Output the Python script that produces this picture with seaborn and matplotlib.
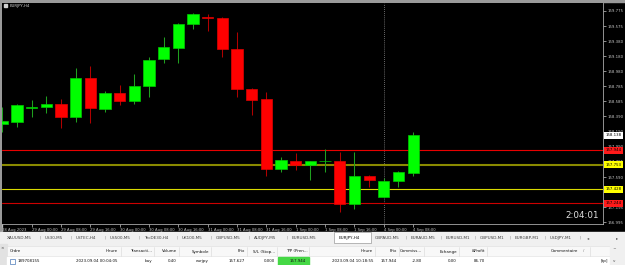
import numpy as np
import matplotlib
matplotlib.use("Agg")
import matplotlib.pyplot as plt
import matplotlib.transforms as mtrans
from matplotlib.patches import Rectangle
import seaborn as sns

# ---------------- data ----------------
symbol = "EURJPY,H4"
opens  = [158.289, 158.311, 158.506, 158.517, 158.552, 158.377, 158.898, 158.490, 158.693, 158.591,
          158.789, 159.140, 159.292, 159.604, 159.696, 159.683, 159.275, 158.749, 158.614, 157.697,
          157.799, 157.750, 157.799, 157.799, 157.233, 157.601, 157.333, 157.535, 157.649]
highs  = [158.517, 158.552, 158.605, 158.657, 158.614, 159.021, 159.052, 158.723, 158.798, 158.946,
          159.166, 159.429, 159.621, 159.753, 159.732, 159.700, 159.503, 158.758, 158.706, 157.851,
          157.904, 157.806, 157.960, 157.925, 157.917, 157.618, 157.575, 157.671, 158.180]
lows   = [158.188, 158.246, 158.377, 158.430, 158.236, 158.319, 158.306, 158.451, 158.535, 158.556,
          158.648, 159.095, 159.095, 159.542, 159.512, 159.174, 158.640, 158.403, 157.609, 157.662,
          157.684, 157.553, 157.654, 157.130, 157.171, 157.464, 157.325, 157.464, 157.609]
closes = [158.325, 158.543, 158.513, 158.552, 158.385, 158.898, 158.495, 158.701, 158.591, 158.793,
          159.131, 159.298, 159.604, 159.739, 159.687, 159.275, 158.745, 158.609, 157.697, 157.812,
          157.750, 157.802, 157.802, 157.237, 157.605, 157.549, 157.539, 157.658, 158.138]

date_labels = ["28 Aug 2023", "29 Aug 00:00", "29 Aug 08:00", "29 Aug 16:00", "30 Aug 00:00",
               "30 Aug 08:00", "30 Aug 16:00", "31 Aug 00:00", "31 Aug 08:00", "31 Aug 16:00",
               "1 Sep 00:00", "1 Sep 08:00", "1 Sep 16:00", "4 Sep 00:00", "4 Sep 08:00"]
separator_bar = 26

price_ticks = [159.775, 159.575, 159.380, 159.180, 158.980, 158.785, 158.585, 158.390,
               158.190, 157.990, 157.795, 157.590, 157.395, 157.195, 156.995]

level_prices = [157.944, 157.753, 157.428, 157.244]
level_colors = ["#e80000", "#8a8a00", "#dada00", "#cc0000"]
level_widths = [0.8, 1.5, 0.8, 0.8]
level_box_colors = ["#ff1a1a", "#ffff00", "#ffff00", "#ff1a1a"]
current_price = 158.138
timer_text = "2:04:01"

tabs = ["XAUUSD,M5", "US30,M5", "USTEC,H4", "US500,M5", "TecDE30,H4", "UK100,M5",
        "GBPUSD,M5", "AUDJPY,M5", "EURUSD,M5", "EURJPY,H4", "GBPAUD,M5", "EURAUD,M5",
        "EURUSD,M1", "GBPUSD,M1", "EURGBP,M1", "USDJPY,M1"]
tab_x = [7, 45, 76, 110, 144, 182, 216, 254, 292, 339, 375, 411, 446, 480, 515, 550]
active_tab = 9

headers = ["Ordre", "Heure", "Transacti...", "Volume", "Symbole", "Prix", "S/L (Stop...",
           "T/P (Pren...", "Heure", "Prix", "Commiss...", "Echange", "&Profit", "Commentaire"]
row_values = ["189708155", "2023.09.04 00:04:05", "buy", "0.40", "eurjpy", "157.627", "0.000",
              "157.944", "2023.09.04 10:18:55", "157.944", "-2.80", "0.00", "86.70", "[tp]"]
col_right = [None, 118, 152, 177, 209, 245, 275, 306, 373, 397, 422, 457, 485, 608]
header_right = [None, 118, 152, 177, 209, 245, 275, 308, 373, 397, 422, 457, 485, 578]

# ---------------- style ----------------
sns.set_theme(style="dark")
plt.rcParams["font.family"] = ["DejaVu Sans"]

W, H = 625, 265
fig = plt.figure(figsize=(W / 100, H / 100), dpi=100, facecolor="#f0f0f0")


def fx(px):
    return px / W


def fy(py):
    return 1 - py / H


# background / UI layer in pixel coordinates
bg = fig.add_axes([0, 0, 1, 1], zorder=0)
bg.set_xlim(0, W)
bg.set_ylim(H, 0)
bg.axis("off")
bg.add_patch(Rectangle((0, 0), W, 232, color="#000000"))
bg.add_patch(Rectangle((0, 0), W, 1.5, color="#9a9a9a"))
bg.add_patch(Rectangle((0, 0), 1.5, 232, color="#9a9a9a"))

# tab bar
bg.add_patch(Rectangle((0, 232), W, 11, color="#f0f0f0"))
bg.add_patch(Rectangle((334, 232.3), 37, 10.5, facecolor="white", edgecolor="#9a9a9a", lw=0.5))
for i, (t, tx) in enumerate(zip(tabs, tab_x)):
    bg.text(tx, 237.6, t, fontsize=3.0, color="#111111" if i == active_tab else "#404040",
            va="center", ha="left")
    if i > 0 and i not in (active_tab, active_tab + 1):
        bg.text(tx - 4.5, 237.6, "|", fontsize=3.0, color="#8a8a8a", va="center", ha="center")
bg.text(580, 237.6, "|", fontsize=3.0, color="#8a8a8a", va="center", ha="center")
bg.text(588, 237.6, "\u25c2", fontsize=3.2, color="#505050", va="center", ha="center")
bg.text(617, 237.6, "\u25b8", fontsize=3.2, color="#505050", va="center", ha="center")

# table
bg.add_patch(Rectangle((0, 244), 7, 21, color="#e2e2e2"))
bg.text(2.5, 248, "\u00d7", fontsize=3.0, color="#404040", va="center", ha="center")
bg.add_patch(Rectangle((7, 246), 603, 10, facecolor="#f8f8f8", edgecolor="#dddddd", lw=0.4))
bg.add_patch(Rectangle((7, 256.5), 603, 9, color="white"))
bg.add_patch(Rectangle((278, 257), 31, 8, color="#45d845"))
bg.add_patch(Rectangle((610, 244), 15, 21, color="#f0f0f0"))
for sx in [121, 154, 179, 211, 247, 277, 309, 375, 399, 424, 459, 487, 590]:
    bg.plot([sx, sx], [247, 255.5], color="#d6d6d6", lw=0.4)
for h, hr in zip(headers, header_right):
    if hr is None:
        bg.text(10, 251.5, h, fontsize=2.9, color="#111111", va="center", ha="left")
    else:
        bg.text(hr, 251.5, h, fontsize=2.9, color="#111111", va="center", ha="right")
bg.text(584, 251.5, "/", fontsize=2.9, color="#777777", va="center", ha="center")
bg.text(614, 250, "^", fontsize=3.2, color="#505050", va="center", ha="center")
bg.text(614, 261.5, "v", fontsize=3.0, color="#505050", va="center", ha="center")
bg.add_patch(Rectangle((10, 258.5), 4.5, 5, facecolor="white", edgecolor="#4a78b8", lw=0.5))
for v, cr in zip(row_values, col_right):
    if cr is None:
        bg.text(18, 261, v, fontsize=2.9, color="#111111", va="center", ha="left")
    else:
        bg.text(cr, 261, v, fontsize=2.9, color="#111111", va="center", ha="right")

# ---------------- chart ----------------
L_PX, R_PX, T_PX, B_PX = 2, 603, 3, 224
C0, STEP = 2.4, 14.67
ax = fig.add_axes([fx(L_PX), fy(B_PX), (R_PX - L_PX) / W, (B_PX - T_PX) / H], zorder=1)
ax.set_facecolor("#000000")
ax.grid(False)

o = np.array(opens)
c = np.array(closes)
hi = np.array(highs)
lo = np.array(lows)
x = np.arange(len(o))
up = c >= o
body_col = np.where(up, "#00ff00", "#ff0000")
edge_col = np.where(up, "#00c800", "#e00000")
wick_col = np.where(up, "#1fa01f", "#b00000")
bottom = np.minimum(o, c)
height = np.maximum(np.abs(c - o), 0.003)

ax.vlines(x, lo, hi, colors=wick_col, linewidth=0.75, zorder=2)
ax.bar(x, height, bottom=bottom, width=0.77, color=body_col, edgecolor=edge_col,
       linewidth=0.5, zorder=3)

for p, col, lw in zip(level_prices, level_colors, level_widths):
    ax.axhline(p, color=col, linewidth=lw, zorder=1.5)
ax.axvline(separator_bar, color="#8c8c8c", linestyle=(0, (1, 1.5)), linewidth=0.6, zorder=1)

ax.set_xlim((L_PX - C0) / STEP, (R_PX - C0) / STEP)
ax.set_ylim(159.91965 - 0.01315 * B_PX, 159.91965 - 0.01315 * T_PX)

for side in ["top", "left"]:
    ax.spines[side].set_visible(False)
for side in ["right", "bottom"]:
    ax.spines[side].set_color("#a8a8a8")
    ax.spines[side].set_linewidth(0.6)

ax.yaxis.tick_right()
ax.set_yticks(price_ticks)
ax.set_yticklabels([f"{v:.3f}" for v in price_ticks])
ax.tick_params(axis="y", direction="out", length=2, width=0.5, pad=1.2, labelsize=2.8,
               colors="#c8c8c8", right=True, left=False)
ax.set_xticks(np.arange(0, len(o), 2))
ax.set_xticklabels(date_labels)
ax.tick_params(axis="x", direction="out", length=2, width=0.5, pad=0.6, labelsize=2.7,
               colors="#c8c8c8", bottom=True)
for lbl in ax.get_xticklabels():
    lbl.set_ha("left")

trans = mtrans.blended_transform_factory(ax.transAxes, ax.transData)
ax.text(1.0045, current_price, f"{current_price:.3f}", transform=trans, fontsize=2.8,
        color="black", va="center", ha="left", clip_on=False, zorder=6,
        bbox=dict(boxstyle="square,pad=0.35", fc="white", ec="white", lw=0))
for p, bc in zip(level_prices, level_box_colors):
    ax.text(1.0045, p, f"{p:.3f}", transform=trans, fontsize=2.8, color="black",
            va="center", ha="left", clip_on=False, zorder=6,
            bbox=dict(boxstyle="square,pad=0.35", fc=bc, ec=bc, lw=0))

# overlay texts
fig.add_artist(Rectangle((fx(4), fy(7)), 3 / W, 3 / H, transform=fig.transFigure,
                         color="#d0d0d0", zorder=10))
fig.text(fx(9.5), fy(5.5), symbol, fontsize=2.8, color="#d0d0d0", va="center", ha="left",
         zorder=10)
fig.text(fx(599), fy(215), timer_text, fontsize=6.3, color="#e0e0e0", va="center",
         ha="right", zorder=10)

fig.savefig("out.png", dpi=100, facecolor=fig.get_facecolor())
